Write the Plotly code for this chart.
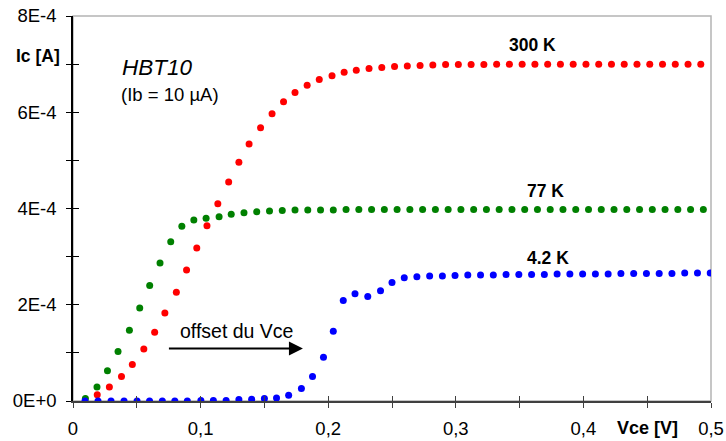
import plotly.graph_objects as go

# Vce [V] and Ic [A], one pair of lists per temperature
vce_300k = [0.019, 0.0285, 0.038, 0.0465, 0.0555, 0.064, 0.072, 0.081, 0.089, 0.097,
            0.105, 0.1135, 0.122, 0.130, 0.138, 0.147, 0.156, 0.165, 0.174, 0.1835,
            0.193, 0.203, 0.2125, 0.222, 0.232, 0.242, 0.252, 0.262, 0.272, 0.282,
            0.292, 0.302, 0.312, 0.322, 0.332, 0.342, 0.352, 0.362, 0.372, 0.382,
            0.392, 0.402, 0.412, 0.422, 0.432, 0.442, 0.452, 0.462, 0.472, 0.482, 0.492]
ic_300k = [0.13e-4, 0.29e-4, 0.51e-4, 0.76e-4, 1.08e-4, 1.43e-4, 1.83e-4, 2.26e-4, 2.72e-4, 3.18e-4,
           3.64e-4, 4.10e-4, 4.55e-4, 4.96e-4, 5.34e-4, 5.68e-4, 5.97e-4, 6.22e-4, 6.41e-4, 6.56e-4,
           6.68e-4, 6.76e-4, 6.83e-4, 6.875e-4, 6.91e-4, 6.93e-4, 6.95e-4, 6.96e-4, 6.97e-4, 6.98e-4,
           6.99e-4, 6.99e-4, 6.99e-4, 6.99e-4, 7.0e-4, 7.0e-4, 7.0e-4, 7.0e-4, 7.0e-4, 7.0e-4,
           7.0e-4, 7.0e-4, 7.0e-4, 7.0e-4, 7.0e-4, 7.0e-4, 7.0e-4, 7.0e-4, 7.0e-4, 7.0e-4, 7.0e-4]

vce_77k = [0.0097, 0.0188, 0.027, 0.0353, 0.0442, 0.0523, 0.0601, 0.0682, 0.0766, 0.0853,
           0.0947, 0.1043, 0.1145, 0.124, 0.134, 0.144, 0.154, 0.164, 0.174, 0.184,
           0.194, 0.204, 0.214, 0.224, 0.234, 0.244, 0.254, 0.264, 0.274, 0.284,
           0.294, 0.304, 0.314, 0.324, 0.334, 0.344, 0.354, 0.364, 0.374, 0.384,
           0.394, 0.404, 0.414, 0.424, 0.434, 0.444, 0.454, 0.464, 0.474, 0.484, 0.494]
ic_77k = [0.05e-4, 0.29e-4, 0.63e-4, 1.03e-4, 1.47e-4, 1.93e-4, 2.40e-4, 2.87e-4, 3.31e-4, 3.63e-4,
          3.76e-4, 3.80e-4, 3.83e-4, 3.88e-4, 3.91e-4, 3.93e-4, 3.95e-4, 3.96e-4, 3.97e-4, 3.97e-4,
          3.97e-4, 3.97e-4, 3.98e-4, 3.98e-4, 3.98e-4, 3.98e-4, 3.98e-4, 3.98e-4, 3.98e-4, 3.98e-4,
          3.98e-4, 3.98e-4, 3.98e-4, 3.98e-4, 3.98e-4, 3.98e-4, 3.98e-4, 3.98e-4, 3.98e-4, 3.98e-4,
          3.98e-4, 3.98e-4, 3.98e-4, 3.98e-4, 3.98e-4, 3.98e-4, 3.98e-4, 3.98e-4, 3.98e-4, 3.98e-4, 3.98e-4]

vce_4k = [0.0094, 0.0196, 0.0298, 0.040, 0.0502, 0.060, 0.070, 0.0798, 0.0896, 0.1002,
          0.110, 0.120, 0.130, 0.140, 0.150, 0.1595, 0.169, 0.179, 0.1877, 0.1963,
          0.204, 0.2118, 0.221, 0.231, 0.241, 0.250, 0.2596, 0.2695, 0.2795, 0.2895,
          0.2994, 0.3094, 0.3194, 0.3294, 0.3394, 0.3494, 0.3594, 0.3694, 0.3794, 0.3894,
          0.3994, 0.4094, 0.4194, 0.4294, 0.4394, 0.4494, 0.4594, 0.4694, 0.4794, 0.4894, 0.4994]
ic_4k = [0.0, 0.0, 0.0, 0.0, 0.0, 0.0, 0.0, 0.0, 0.0, 0.01e-4,
         0.01e-4, 0.01e-4, 0.03e-4, 0.035e-4, 0.05e-4, 0.06e-4, 0.12e-4, 0.26e-4, 0.51e-4, 0.91e-4,
         1.45e-4, 2.09e-4, 2.23e-4, 2.17e-4, 2.29e-4, 2.46e-4, 2.56e-4, 2.58e-4, 2.60e-4, 2.60e-4,
         2.61e-4, 2.62e-4, 2.62e-4, 2.62e-4, 2.63e-4, 2.63e-4, 2.63e-4, 2.63e-4, 2.64e-4, 2.64e-4,
         2.64e-4, 2.64e-4, 2.64e-4, 2.65e-4, 2.65e-4, 2.65e-4, 2.65e-4, 2.65e-4, 2.66e-4, 2.66e-4, 2.66e-4]

y_tickvals = [0, 2e-4, 4e-4, 6e-4, 8e-4]
y_ticktext = ["0E+0", "2E-4", "4E-4", "6E-4", "8E-4"]

FONT = "Liberation Sans, Arial, sans-serif"

fig = go.Figure()
fig.add_trace(go.Scatter(x=vce_77k, y=ic_77k, mode='markers', name='77 K',
                         marker=dict(size=7, color='#008000'), xaxis='x', yaxis='y'))
fig.add_trace(go.Scatter(x=vce_300k, y=ic_300k, mode='markers', name='300 K',
                         marker=dict(size=7, color='#FF0000'), xaxis='x', yaxis='y'))
fig.add_trace(go.Scatter(x=vce_4k, y=ic_4k, mode='markers', name='4.2 K',
                         marker=dict(size=7, color='#0000FF'), xaxis='x', yaxis='y'))

# grey frame on top / right, axes drawn over it
fig.add_shape(type='rect', xref='paper', yref='paper', x0=0, y0=0, x1=1, y1=1,
              line=dict(color='#B4B4B4', width=1.5), layer='below')

tick_font = dict(family=FONT, size=18.5, color='black')

fig.update_layout(
    width=726, height=441,
    margin=dict(l=73, r=15, t=16, b=40),
    paper_bgcolor='white', plot_bgcolor='white',
    showlegend=False,
    separators=', ',
    xaxis=dict(range=[0, 0.5], tickmode='linear', tick0=0, dtick=0.1, automargin=False,
               showgrid=False, zeroline=False,
               showline=True, linecolor='#404040', linewidth=2,
               ticks='outside', ticklen=5, tickwidth=1, tickcolor='#404040',
               minor=dict(tickmode='linear', tick0=0, dtick=0.05, ticks='outside',
                          ticklen=5, tickwidth=1, tickcolor='#404040'),
               tickfont=tick_font, ticklabelstandoff=5),
    xaxis2=dict(range=[0, 0.5], overlaying='x', matches='x', anchor='y', side='bottom',
                tickmode='linear', tick0=0, dtick=0.05, ticks='inside', ticklen=5,
                tickwidth=1, tickcolor='#404040', showticklabels=False, automargin=False,
                showgrid=False, zeroline=False, showline=False),
    yaxis=dict(range=[0, 8e-4], tickmode='array', tickvals=y_tickvals, ticktext=y_ticktext,
               automargin=False, showgrid=False, zeroline=False,
               showline=True, linecolor='black', linewidth=1.5,
               ticks='outside', ticklen=5, tickwidth=1, tickcolor='black',
               minor=dict(tickmode='linear', tick0=0, dtick=1e-4, ticks='outside',
                          ticklen=5, tickwidth=1, tickcolor='black'),
               tickfont=tick_font, ticklabelstandoff=6),
    yaxis2=dict(range=[0, 8e-4], overlaying='y', matches='y', anchor='x', side='left',
                tickmode='linear', tick0=0, dtick=1e-4, ticks='inside', ticklen=6,
                tickwidth=1, tickcolor='black', showticklabels=False, automargin=False,
                showgrid=False, zeroline=False, showline=False),
)

# a dummy trace so the overlay axes are drawn
fig.add_trace(go.Scatter(x=[0], y=[0], mode='markers', marker=dict(opacity=0),
                         xaxis='x2', yaxis='y2', hoverinfo='skip'))

bold = dict(family=FONT, size=17.5, color='black')
fig.add_annotation(text="<b>Ic [A]</b>", xref='paper', yref='paper', x=-0.055, y=0.896,
                   xanchor='center', yanchor='middle', showarrow=False,
                   font=dict(family=FONT, size=17.5, color='black'))
fig.add_annotation(text="<b>Vce [V]</b>", xref='paper', yref='paper', x=0.901, y=-0.071,
                   xanchor='center', yanchor='middle', showarrow=False,
                   font=dict(family=FONT, size=18, color='black'))
fig.add_annotation(text="<i>HBT10</i>", xref='paper', yref='paper', x=0.0737, y=0.866,
                   xanchor='left', yanchor='middle', showarrow=False,
                   font=dict(family=FONT, size=22.5, color='black'))
fig.add_annotation(text="(Ib = 10 µA)", xref='paper', yref='paper', x=0.0726, y=0.797,
                   xanchor='left', yanchor='middle', showarrow=False,
                   font=dict(family=FONT, size=18.5, color='black'))
fig.add_annotation(text="<b>300 K</b>", xref='paper', yref='paper', x=0.721, y=0.925,
                   xanchor='center', yanchor='middle', showarrow=False, font=bold)
fig.add_annotation(text="<b>77 K</b>", xref='paper', yref='paper', x=0.7403, y=0.545,
                   xanchor='center', yanchor='middle', showarrow=False, font=bold)
fig.add_annotation(text="<b>4.2 K</b>", xref='paper', yref='paper', x=0.745, y=0.372,
                   xanchor='center', yanchor='middle', showarrow=False, font=bold)
fig.add_annotation(text="offset du Vce", xref='paper', yref='paper', x=0.257, y=0.182,
                   xanchor='center', yanchor='middle', showarrow=False,
                   font=dict(family=FONT, size=19.5, color='black'))
fig.add_annotation(text="", x=0.1802, y=1.09e-4, ax=0.074, ay=1.09e-4,
                   xref='x', yref='y', axref='x', ayref='y', showarrow=True,
                   arrowhead=2, arrowsize=1.4, arrowwidth=2, arrowcolor='black', standoff=0)

# the page's default 8px body margin would push the fixed-size figure off the window
fig.write_html("out.html", config={'displayModeBar': False},
               post_script="document.body.style.margin='0';")
